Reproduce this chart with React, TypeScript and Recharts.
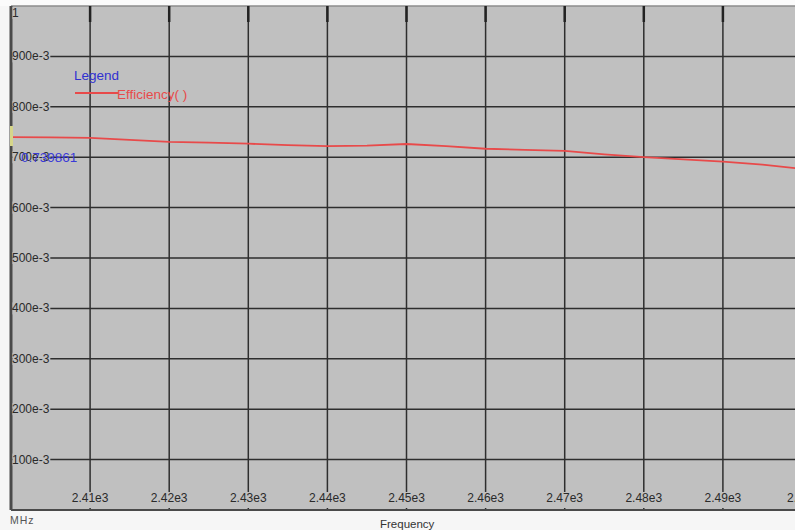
import React from 'react'
import { LineChart, Line, XAxis, YAxis, CartesianGrid, ReferenceLine } from 'recharts'

// Frequency sweep (MHz) and efficiency
const frequency = [
  2400, 2405, 2410, 2415, 2420, 2425, 2430, 2435, 2440, 2445, 2450,
  2455, 2460, 2465, 2470, 2475, 2480, 2485, 2490, 2495, 2500,
]
const efficiency = [
  0.739861, 0.7392, 0.7385, 0.7345, 0.7305, 0.7288, 0.7268, 0.7238, 0.7218, 0.7228, 0.7262,
  0.7218, 0.7168, 0.7146, 0.7126, 0.7057, 0.7003, 0.6958, 0.6913, 0.6852, 0.677,
]
const xTicks = [2400, 2410, 2420, 2430, 2440, 2450, 2460, 2470, 2480, 2490, 2500]
const yTicks = [0, 0.1, 0.2, 0.3, 0.4, 0.5, 0.6, 0.7, 0.8, 0.9, 1]

const data = frequency.map((f, i) => ({ f, eff: efficiency[i] }))

const PLOT_LEFT = 11
const PLOT_BOTTOM = 510
const FONT = '"Liberation Sans", Arial, sans-serif'

function fmtY(v: number): string {
  if (v === 0) return ''
  if (v === 1) return '1'
  return `${Math.round(v * 1000)}e-3`
}

function fmtX(v: number): string {
  if (v === 2400) return ''
  return `${parseFloat((v / 1000).toFixed(2))}e3`
}

const YTick = (props: any) => {
  const { y, payload } = props
  const label = fmtY(payload.value)
  if (!label) return <g />
  const cy = payload.value === 1 ? y + 7 : y
  const w = label.length * 6.3
  return (
    <g>
      <rect x={PLOT_LEFT + 1.5} y={cy - 6} width={w} height={12} fill="#c0c0c0" />
      <text x={PLOT_LEFT + 1} y={cy} dy={4} fontSize={12} fill="#2a2a2a" fontFamily={FONT}>
        {label}
      </text>
    </g>
  )
}

const XTick = (props: any) => {
  const { x, payload } = props
  const label = fmtX(payload.value)
  if (!label) return <g />
  const w = label.length * 6.4
  return (
    <g>
      <rect x={x - w / 2} y={PLOT_BOTTOM - 18} width={w} height={16} fill="#c0c0c0" />
      <text x={x} y={PLOT_BOTTOM - 8} textAnchor="middle" fontSize={12} fill="#2a2a2a" fontFamily={FONT}>
        {label}
      </text>
    </g>
  )
}

export default function App() {
  return (
    <div
      style={{
        position: 'fixed',
        left: 0,
        top: 0,
        width: 795,
        height: 530,
        overflow: 'hidden',
        background: '#f6f6f6',
        fontFamily: FONT,
      }}
    >
      <div style={{ position: 'absolute', left: 0, top: 0, width: 795, height: 6, background: '#fbfbfb' }} />
      <LineChart
        width={810}
        height={530}
        data={data}
        margin={{ top: 6, right: 8, left: PLOT_LEFT, bottom: 530 - PLOT_BOTTOM }}
      >
        <CartesianGrid
          fill="#c0c0c0"
          stroke="#2e2e2e"
          strokeWidth={1.5}
          horizontalValues={[0.1, 0.2, 0.3, 0.4, 0.5, 0.6, 0.7, 0.8, 0.9]}
          verticalValues={xTicks.slice(1)}
        />
        <ReferenceLine y={1} stroke="#8c8c8c" strokeWidth={1.5} />
        <XAxis
          dataKey="f"
          type="number"
          domain={[2400, 2500]}
          ticks={xTicks}
          mirror
          height={30}
          interval={0}
          tickLine={false}
          axisLine={{ stroke: '#4a4a4a', strokeWidth: 2 }}
          tick={<XTick />}
          allowDataOverflow
        />
        <XAxis
          xAxisId="top"
          dataKey="f"
          type="number"
          orientation="top"
          mirror
          domain={[2400, 2500]}
          ticks={xTicks.slice(1)}
          height={20}
          interval={0}
          tickSize={16}
          tickLine={{ stroke: '#222', strokeWidth: 2.5 }}
          axisLine={false}
          tick={() => <g />}
        />
        <YAxis
          type="number"
          domain={[0, 1]}
          ticks={yTicks}
          mirror
          width={60}
          interval={0}
          tickLine={false}
          axisLine={{ stroke: '#4a4a4a', strokeWidth: 3 }}
          tick={<YTick />}
          allowDataOverflow
        />
        <Line
          type="linear"
          dataKey="eff"
          stroke="#e84a4a"
          strokeWidth={1.8}
          dot={false}
          isAnimationActive={false}
        />
      </LineChart>

      {/* cursor marker and readout */}
      <div style={{ position: 'absolute', left: 10, top: 126, width: 3, height: 20, background: '#d6d68a' }} />
      <div style={{ position: 'absolute', left: 21, top: 150, fontSize: 13.5, color: '#3a3ad8', lineHeight: '16px' }}>
        {efficiency[0].toFixed(6)}
      </div>

      {/* legend */}
      <div style={{ position: 'absolute', left: 74, top: 68, fontSize: 13.5, color: '#3030d0', lineHeight: '16px' }}>
        Legend
      </div>
      <div style={{ position: 'absolute', left: 75, top: 92, width: 43, height: 1.5, background: '#e84a4a' }} />
      <div style={{ position: 'absolute', left: 117, top: 87, fontSize: 13.5, color: '#e84a4a', lineHeight: '16px' }}>
        Efficiency( )
      </div>

      {/* axis captions */}
      <div style={{ position: 'absolute', left: 10, top: 514, fontSize: 10.5, color: '#555', lineHeight: '13px', letterSpacing: 1 }}>
        MHz
      </div>
      <div style={{ position: 'absolute', left: 380, top: 517, fontSize: 11.5, color: '#333', lineHeight: '14px' }}>
        Frequency
      </div>
    </div>
  )
}
